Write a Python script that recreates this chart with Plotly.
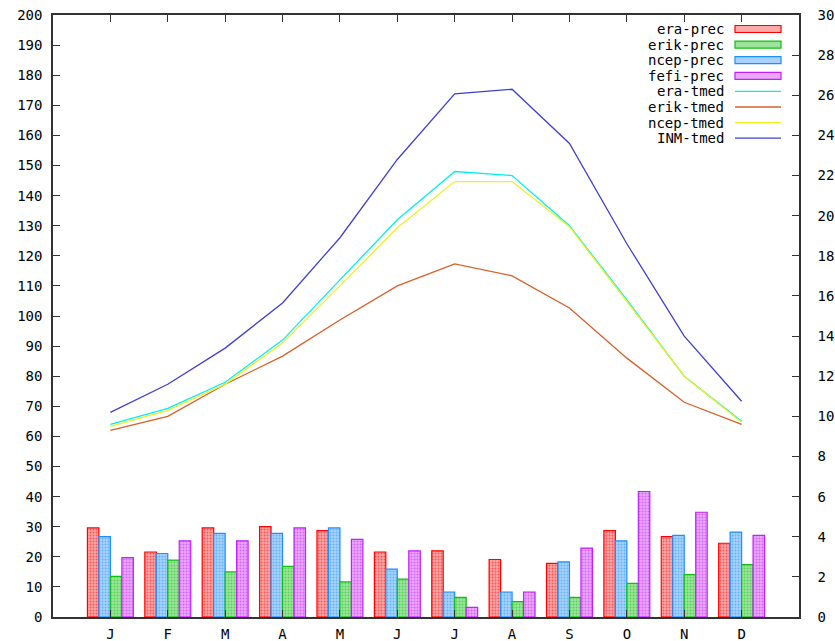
import plotly.graph_objects as go

months = ["J", "F", "M", "A", "M", "J", "J", "A", "S", "O", "N", "D"]
month_idx = list(range(1, 13))

# precipitation (left axis)
era_prec = [29.6, 21.6, 29.6, 30.0, 28.7, 21.6, 22.0, 19.1, 17.8, 28.7, 26.7, 24.5]
erik_prec = [13.5, 18.9, 15.0, 16.8, 11.7, 12.6, 6.5, 5.1, 6.5, 11.2, 14.1, 17.4]
ncep_prec = [26.7, 21.1, 27.8, 27.8, 29.6, 15.9, 8.3, 8.3, 18.3, 25.3, 27.1, 28.2]
fefi_prec = [19.7, 25.3, 25.3, 29.6, 25.8, 22.0, 3.2, 8.3, 22.9, 41.7, 34.8, 27.1]

# mean temperature (right axis)
era_tmed = [9.6, 10.4, 11.7, 13.8, 16.8, 19.8, 22.2, 22.0, 19.5, 15.8, 12.0, 9.75]
erik_tmed = [9.3, 10.0, 11.6, 13.0, 14.8, 16.5, 17.6, 17.0, 15.4, 12.9, 10.7, 9.6]
ncep_tmed = [9.5, 10.3, 11.6, 13.65, 16.5, 19.4, 21.7, 21.7, 19.45, 15.7, 12.0, 9.7]
inm_tmed = [10.2, 11.6, 13.4, 15.65, 18.9, 22.8, 26.07, 26.3, 23.6, 18.6, 14.0, 10.75]

left_ticks = list(range(0, 201, 10))
right_ticks = list(range(0, 31, 2))

FONT = "DejaVu Sans Mono"
W, H = 835, 641
L, R, T, B = 53, 36, 15, 24
PW, PH = W - L - R, H - T - B

# (name, values, edge colour, tint colour)
bar_specs = [
    ("era-prec", era_prec, "#ff0000", "#ffa8a8"),
    ("ncep-prec", ncep_prec, "#1e8fff", "#a8d2ff"),
    ("erik-prec", erik_prec, "#10c010", "#9ce49c"),
    ("fefi-prec", fefi_prec, "#c020ff", "#eaa8ff"),
]
line_specs = [
    ("era-tmed", era_tmed, "#00f0f0"),
    ("erik-tmed", erik_tmed, "#d8602a"),
    ("ncep-tmed", ncep_tmed, "#f0f020"),
    ("INM-tmed", inm_tmed, "#4040d0"),
]

fig = go.Figure()
for name, vals, col, tint in bar_specs:
    fig.add_trace(go.Bar(
        x=month_idx, y=vals, name=name, yaxis="y",
        marker=dict(color=tint, line=dict(color=col, width=1.2),
                    pattern=dict(shape=".", fillmode="overlay", fgcolor=col,
                                 size=3, solidity=0.35)),
        showlegend=False,
    ))
for name, vals, col in line_specs:
    fig.add_trace(go.Scatter(
        x=month_idx, y=vals, name=name, yaxis="y2", mode="lines",
        line=dict(color=col, width=1.3), showlegend=False,
    ))


def px2x(px):
    return (px - L) / PW


def py2y(py):
    return (H - B - py) / PH


legend_items = [
    ("era-prec", "#ff0000", "#ffa8a8", "bar"),
    ("erik-prec", "#10c010", "#9ce49c", "bar"),
    ("ncep-prec", "#1e8fff", "#a8d2ff", "bar"),
    ("fefi-prec", "#c020ff", "#eaa8ff", "bar"),
    ("era-tmed", "#00f0f0", None, "line"),
    ("erik-tmed", "#d8602a", None, "line"),
    ("ncep-tmed", "#f0f020", None, "line"),
    ("INM-tmed", "#4040d0", None, "line"),
]
shapes = []
annotations = []
for i, (name, col, tint, kind) in enumerate(legend_items):
    yc = 29 + i * 15.6
    annotations.append(dict(
        x=px2x(726), y=py2y(yc), xref="paper", yref="paper",
        text=name, showarrow=False, xanchor="right", yanchor="middle",
        font=dict(family=FONT, size=14, color="#000000"),
    ))
    if kind == "bar":
        shapes.append(dict(
            type="rect", xref="paper", yref="paper",
            x0=px2x(735), x1=px2x(781), y0=py2y(yc + 3.5), y1=py2y(yc - 3.5),
            line=dict(color=col, width=1.2), fillcolor=tint,
        ))
    else:
        shapes.append(dict(
            type="line", xref="paper", yref="paper",
            x0=px2x(735), x1=px2x(781), y0=py2y(yc), y1=py2y(yc),
            line=dict(color=col, width=1.3),
        ))

axis_common = dict(
    showgrid=False, zeroline=False, showline=True, linecolor="#333333",
    linewidth=1.5, ticks="inside", ticklen=7, tickcolor="#333333",
    tickfont=dict(family=FONT, size=14, color="#000000"), automargin=False,
)

fig.update_layout(
    width=W, height=H,
    margin=dict(l=L, r=R, t=T, b=B),
    paper_bgcolor="white", plot_bgcolor="white",
    barmode="group", bargap=0.2, bargroupgap=0,
    xaxis=dict(range=[0, 13], tickvals=month_idx, ticktext=months,
               mirror="ticks", ticklabelstandoff=3, **axis_common),
    yaxis=dict(range=[0, 200], tickvals=left_ticks, ticklabelstandoff=6,
               **axis_common),
    yaxis2=dict(range=[0, 30], tickvals=right_ticks, overlaying="y",
                side="right", ticklabelstandoff=14, **axis_common),
    shapes=shapes, annotations=annotations,
    showlegend=False,
)

fig.write_html(
    "out.html",
    config={"displayModeBar": False},
    post_script="document.body.style.margin='0px';document.body.style.overflow='hidden';",
)
